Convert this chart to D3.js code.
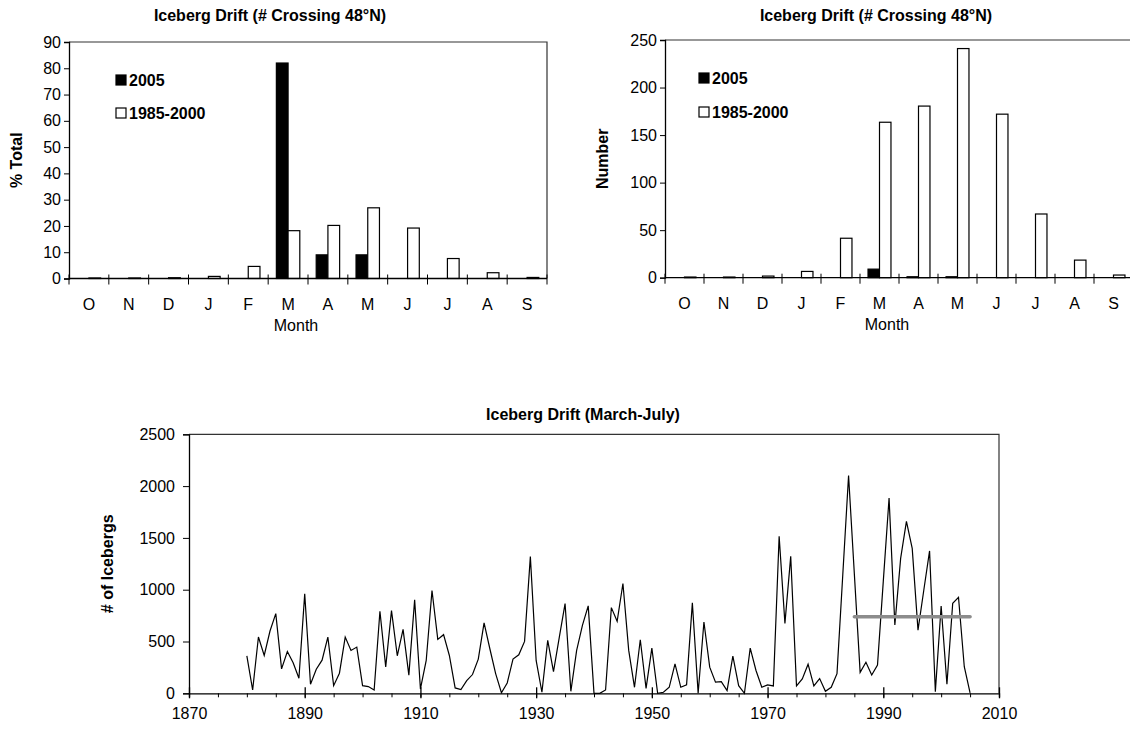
<!DOCTYPE html>
<html>
<head>
<meta charset="utf-8">
<script src="https://cdn.jsdelivr.net/npm/d3@7"></script>
<style>
  body { margin: 0; background: #fff; }
  svg { display: block; font-family: "Liberation Sans", Arial, sans-serif; }
  .axis path, .axis line { stroke: #000; }
  .axis text { font-size: 16px; fill: #000; }
</style>
</head>
<body>
<svg id="chart" width="1130" height="730"></svg>
<script>
// Monthly data (Oct - Sep)
const months = ["O", "N", "D", "J", "F", "M", "A", "M", "J", "J", "A", "S"];
const pct2005 = [0, 0, 0, 0, 0, 82, 9, 9, 0, 0, 0, 0];
const pct8500 = [0.2, 0.2, 0.3, 0.8, 4.6, 18.2, 20.2, 26.9, 19.2, 7.6, 2.2, 0.4];
const num2005 = [0, 0, 0, 0, 0, 9, 1, 1, 0, 0, 0, 0];
const num8500 = [0.7, 0.7, 1.7, 6.6, 41.5, 163.5, 180.5, 241, 172, 67, 18.5, 2.8];
const seriesNames = ["2005", "1985-2000"];

// Yearly March-July counts, 1880 - 2005
const firstYear = 1880;
const drift = [
  362, 32, 543, 365, 601, 769, 236, 404, 294, 145,
  960, 87, 233, 320, 543, 74, 194, 543, 414, 446,
  74, 65, 32, 792, 255, 798, 362, 617, 175, 902,
  42, 317, 992, 520, 566, 365, 52, 36, 123, 181,
  330, 679, 430, 190, 5, 100, 330, 372, 501, 1319,
  317, 10, 511, 210, 540, 866, 19, 414, 656, 844,
  0, 0, 32, 827, 695, 1060, 414, 58, 517, 48,
  436, 0, 10, 58, 284, 58, 81, 873, 0, 688,
  252, 107, 113, 26, 359, 74, 0, 436, 220, 58,
  81, 71, 1516, 675, 1322, 71, 139, 281, 71, 142,
  19, 58, 190, 1145, 2101, 1150, 202, 299, 177, 273,
  1080, 1884, 659, 1302, 1660, 1399, 610, 995, 1374, 16,
  843, 87, 869, 927, 257, 5
];
const meanYears = [1985, 2005];
const meanValue = 740;

const svg = d3.select("#chart");

function drawBars(cfg) {
  const g = svg.append("g");
  const x = d3.scaleBand().domain(d3.range(months.length)).range([cfg.left, cfg.right]);
  const x1 = d3.scaleBand().domain([0, 1]).range([0, x.bandwidth()]).paddingOuter(0.7);
  const y = d3.scaleLinear().domain([0, cfg.yMax]).range([cfg.bottom, cfg.top]);

  // frame top + right
  g.append("path")
    .attr("d", `M${cfg.left},${cfg.top}H${cfg.right}V${cfg.bottom}`)
    .attr("fill", "none").attr("stroke", "#333").attr("stroke-width", 1.2);

  // bars
  [cfg.a, cfg.b].forEach((vals, si) => {
    g.selectAll(null)
      .data(vals)
      .enter()
      .append("rect")
        .attr("x", (d, i) => x(i) + x1(si))
        .attr("y", d => y(d))
        .attr("width", x1.bandwidth())
        .attr("height", d => cfg.bottom - y(d))
        .attr("fill", si === 0 ? "#000" : "#fff")
        .attr("stroke", "#000")
        .attr("stroke-width", 1.2);
  });

  // y axis
  g.append("g")
    .attr("class", "axis")
    .attr("transform", `translate(${cfg.left},0)`)
    .call(d3.axisLeft(y).tickValues(d3.range(0, cfg.yMax + 1, cfg.yStep)).tickSize(5).tickPadding(3).tickFormat(d3.format("d")))
    .call(a => a.select(".domain").attr("stroke-width", 1.3));

  // x axis line + boundary ticks
  g.append("line")
    .attr("x1", cfg.left).attr("x2", cfg.right)
    .attr("y1", cfg.bottom).attr("y2", cfg.bottom)
    .attr("stroke", "#000").attr("stroke-width", 1.3);
  g.selectAll(null)
    .data(d3.range(months.length + 1))
    .enter()
    .append("line")
      .attr("x1", i => i < months.length ? x(i) : cfg.right)
      .attr("x2", i => i < months.length ? x(i) : cfg.right)
      .attr("y1", cfg.bottom - 4).attr("y2", cfg.bottom + 6)
      .attr("stroke", "#000");
  g.selectAll(null)
    .data(months)
    .enter()
    .append("text")
      .attr("x", (d, i) => x(i) + x.bandwidth() / 2)
      .attr("y", cfg.bottom + 31)
      .attr("text-anchor", "middle")
      .attr("font-size", 16)
      .text(d => d);

  g.append("text")
    .attr("x", (cfg.left + cfg.right) / 2 - 12)
    .attr("y", cfg.bottom + 52)
    .attr("text-anchor", "middle")
    .attr("font-size", 16)
    .text("Month");

  g.append("text")
    .attr("transform", `translate(${cfg.yTitleX},${(cfg.top + cfg.bottom) / 2}) rotate(-90)`)
    .attr("text-anchor", "middle")
    .attr("font-size", 16)
    .attr("font-weight", "bold")
    .text(cfg.yTitle);

  g.append("text")
    .attr("x", cfg.titleX)
    .attr("y", 21)
    .attr("text-anchor", "middle")
    .attr("font-size", 16)
    .attr("font-weight", "bold")
    .text("Iceberg Drift (# Crossing 48°N)");

  // legend
  seriesNames.forEach((name, i) => {
    const ly = cfg.legendY[i];
    g.append("rect")
      .attr("x", cfg.legendX).attr("y", ly)
      .attr("width", 10).attr("height", 10)
      .attr("fill", i === 0 ? "#000" : "#fff")
      .attr("stroke", "#000").attr("stroke-width", 1.2);
    g.append("text")
      .attr("x", cfg.legendX + 13).attr("y", ly + 11)
      .attr("font-size", 16).attr("font-weight", "bold")
      .text(name);
  });
}

drawBars({
  left: 69, right: 547, top: 42, bottom: 278.5,
  yMax: 90, yStep: 10, a: pct2005, b: pct8500,
  yTitle: "% Total", yTitleX: 22, titleX: 270,
  legendX: 116, legendY: [75, 108]
});

drawBars({
  left: 665, right: 1133, top: 40, bottom: 277.7,
  yMax: 250, yStep: 50, a: num2005, b: num8500,
  yTitle: "Number", yTitleX: 608, titleX: 876,
  legendX: 699, legendY: [73, 107]
});

// Bottom line chart
const L = { left: 189, right: 999, top: 434.3, bottom: 693.3 };
const gx = d3.scaleLinear().domain([1870, 2010]).range([L.left, L.right]);
const gy = d3.scaleLinear().domain([0, 2500]).range([L.bottom, L.top]);
const lg = svg.append("g");

lg.append("path")
  .attr("d", `M${L.left},${L.top}H${L.right}V${L.bottom}`)
  .attr("fill", "none").attr("stroke", "#333").attr("stroke-width", 1.2);

lg.append("g")
  .attr("class", "axis")
  .attr("transform", `translate(${L.left},0)`)
  .call(d3.axisLeft(gy).tickValues(d3.range(0, 2501, 500)).tickSize(6).tickPadding(8).tickFormat(d3.format("d")))
  .call(a => a.select(".domain").attr("stroke-width", 1.3));

// minor ticks every 5 years
lg.append("g")
  .attr("class", "axis")
  .attr("transform", `translate(0,${L.bottom})`)
  .call(d3.axisBottom(gx).tickValues(d3.range(1870, 2011, 5)).tickSize(4).tickFormat(""))
  .call(a => a.select(".domain").attr("stroke-width", 1.3));

// major ticks every 20 years, crossing the axis
lg.append("g")
  .attr("class", "axis")
  .attr("transform", `translate(0,${L.bottom})`)
  .call(d3.axisBottom(gx).tickValues(d3.range(1870, 2011, 20)).tickSize(5).tickPadding(9).tickFormat(d3.format("d")))
  .call(a => a.select(".domain").remove())
  .call(a => a.selectAll(".tick line").attr("y1", -6).attr("stroke-width", 1.3));

const line = d3.line()
  .x((d, i) => gx(firstYear + i))
  .y(d => gy(d));

lg.append("path")
  .datum(drift)
  .attr("d", line)
  .attr("fill", "none")
  .attr("stroke", "#000")
  .attr("stroke-width", 1.2)
  .attr("stroke-linejoin", "miter");

lg.append("line")
  .attr("x1", gx(meanYears[0])).attr("x2", gx(meanYears[1]))
  .attr("y1", gy(meanValue)).attr("y2", gy(meanValue))
  .attr("stroke", "#8c8c8c")
  .attr("stroke-width", 3.5)
  .attr("stroke-linecap", "round");

lg.append("text")
  .attr("transform", `translate(113,${(L.top + L.bottom) / 2}) rotate(-90)`)
  .attr("text-anchor", "middle")
  .attr("font-size", 16)
  .attr("font-weight", "bold")
  .text("# of Icebergs");

lg.append("text")
  .attr("x", 583)
  .attr("y", 420)
  .attr("text-anchor", "middle")
  .attr("font-size", 16)
  .attr("font-weight", "bold")
  .text("Iceberg Drift (March-July)");
</script>
</body>
</html>
